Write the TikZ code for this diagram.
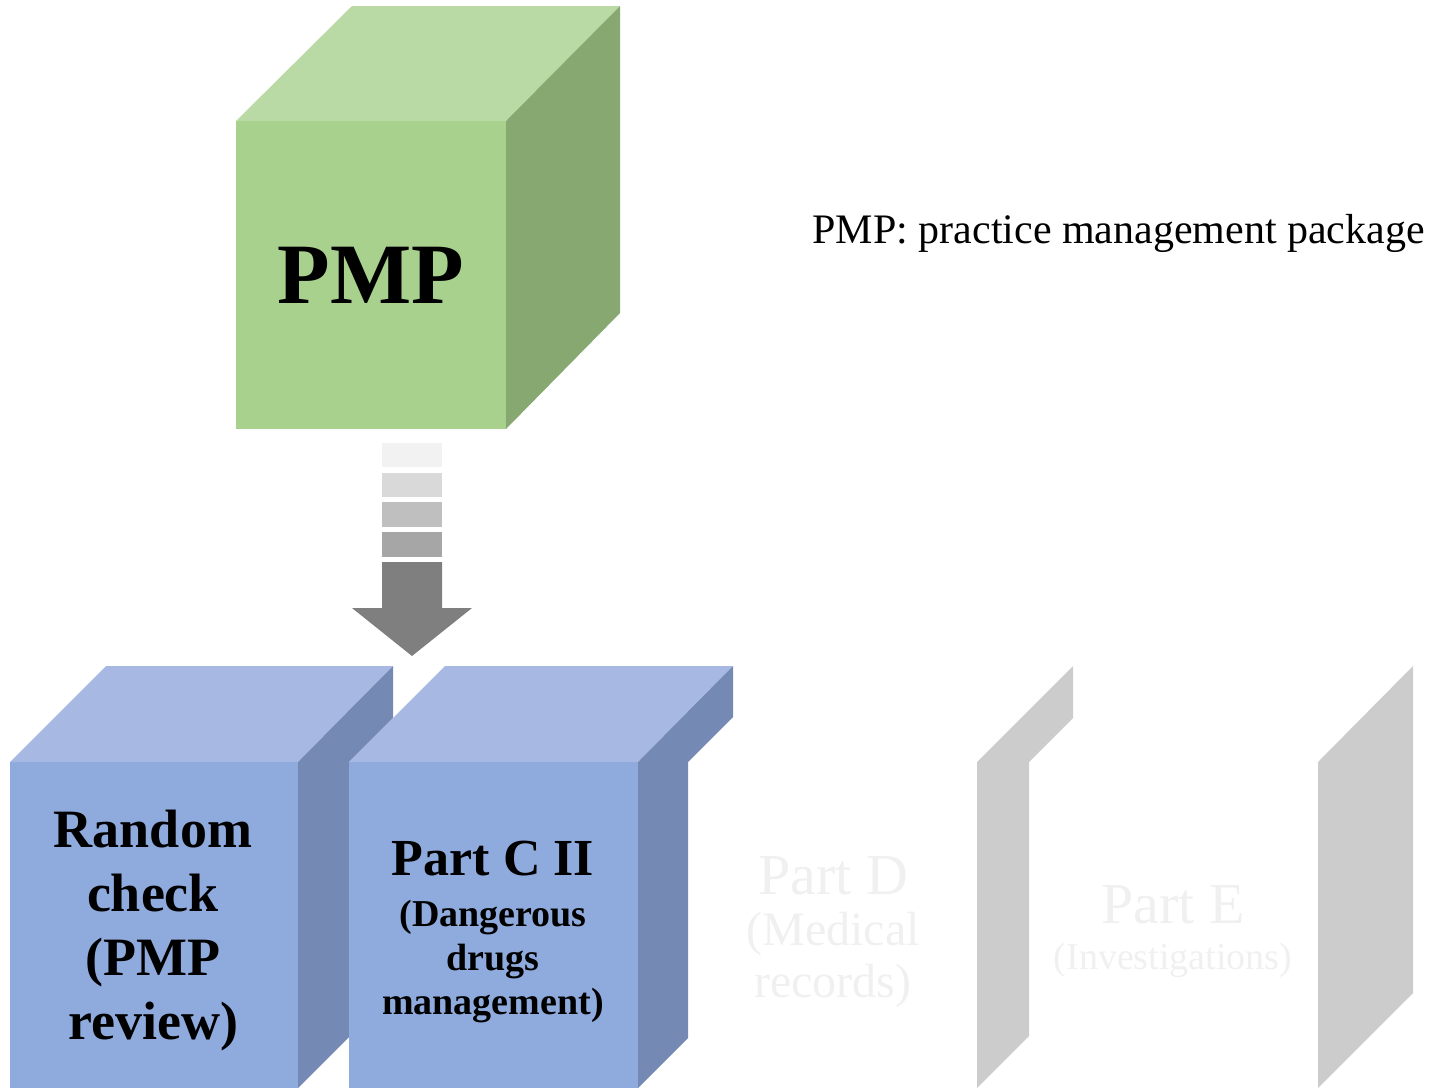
\documentclass[tikz,border=0pt]{standalone}
\usepackage{fontspec}
\setmainfont{Liberation Serif}
\definecolor{gfront}{HTML}{A9D18E}
\definecolor{gtop}{HTML}{B9DAA4}
\definecolor{gside}{HTML}{87A870}
\definecolor{bfront}{HTML}{8FAADC}
\definecolor{btop}{HTML}{A7B9E3}
\definecolor{bside}{HTML}{7489B3}
\definecolor{paleside}{HTML}{CCCCCC}
\definecolor{faint}{HTML}{F0F0F0}
\definecolor{ar1}{HTML}{F2F2F2}
\definecolor{ar2}{HTML}{D9D9D9}
\definecolor{ar3}{HTML}{BFBFBF}
\definecolor{ar4}{HTML}{A6A6A6}
\definecolor{ar5}{HTML}{7F7F7F}
\tikzset{
  face/.style={draw=none},
  bigtxt/.style={font=\bfseries\fontsize{54}{64}\selectfont, align=center, text=black, inner sep=0pt},
  midtxt/.style={font=\bfseries\fontsize{52}{56}\selectfont, text=black, inner sep=0pt},
  subtxt/.style={font=\bfseries\fontsize{38}{44}\selectfont, align=center, text=black, inner sep=0pt},
  paletxt/.style={text=faint, align=center, inner sep=0pt}
}
\begin{document}
\begin{tikzpicture}[x=1pt,y=-1pt]
\useasboundingbox (0,0) rectangle (1433,1088);
% green PMP cube
\fill[gtop] (236,121) -- (352,6) -- (620,6) -- (506,121) -- cycle;
\fill[gside] (506,121) -- (620,6) -- (620,313) -- (506,429) -- cycle;
\fill[gfront] (236,121) rectangle (506,429);
\node[font=\bfseries\fontsize{86}{90}\selectfont, inner sep=0pt] (pmp) at (371,275) {PMP};
% legend
\node[font=\fontsize{42}{46}\selectfont, anchor=east, inner sep=0pt] (legend) at (1425,233) {PMP: practice management package};
% arrow
\fill[ar1] (382,443) rectangle (442,467);
\fill[ar2] (382,473) rectangle (442,497);
\fill[ar3] (382,502) rectangle (442,527);
\fill[ar4] (382,532) rectangle (442,557);
\fill[ar5] (382,562) -- (442,562) -- (442,608) -- (472,608) -- (412,656) -- (352,608) -- (382,608) -- cycle;
% cube 1
\fill[btop] (10,762) -- (106,666) -- (393,666) -- (298,762) -- cycle;
\fill[bside] (298,762) -- (393,666) -- (393,718) -- (349,762) -- (349,1037) -- (298,1088) -- cycle;
\fill[bfront] (10,762) rectangle (298,1088);
\node[bigtxt] (rc) at (153,930) {Random\\check\\(PMP\\review)};
% cube 2
\fill[btop] (349,762) -- (445,666) -- (733,666) -- (638,762) -- cycle;
\fill[bside] (638,762) -- (733,666) -- (733,717) -- (688,762) -- (688,1038) -- (638,1088) -- cycle;
\fill[bfront] (349,762) rectangle (638,1088);
\node[midtxt] (pc) at (493,859) {Part C II};
\node[subtxt] (pcs) at (493,961) {(Dangerous\\drugs\\management)};
% Part D
\fill[paleside] (977,762) -- (1073,666) -- (1073,718) -- (1029,762) -- (1029,1036) -- (977,1088) -- cycle;
\node[paletxt, font=\fontsize{58}{60}\selectfont] (pd) at (833,876) {Part D};
\node[paletxt, font=\fontsize{48}{52}\selectfont] (pds) at (833,960) {(Medical\\records)};
% Part E
\fill[paleside] (1318,762) -- (1413,666) -- (1413,993) -- (1318,1088) -- cycle;
\node[paletxt, font=\fontsize{58}{60}\selectfont] (pe) at (1173,905) {Part E};
\node[paletxt, font=\fontsize{38}{40}\selectfont] (pes) at (1173,960) {(Investigations)};
\end{tikzpicture}
\end{document}
